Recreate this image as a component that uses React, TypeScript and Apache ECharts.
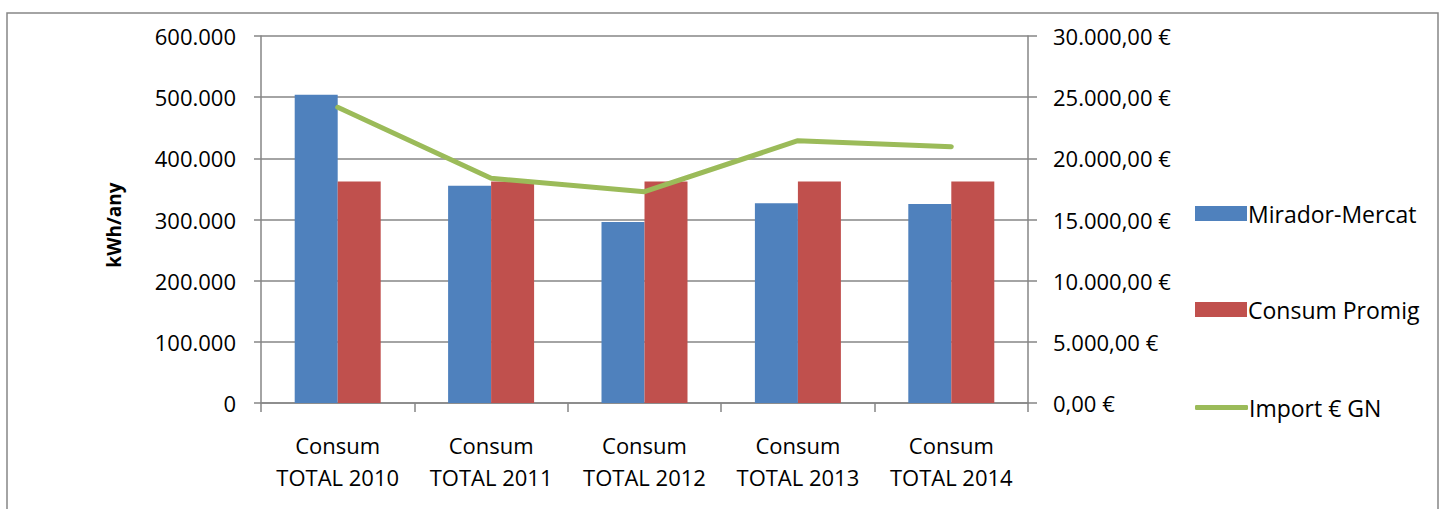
import React, { useEffect, useRef } from "react";
import * as echarts from "echarts";

const categories = [
  "Consum\nTOTAL 2010",
  "Consum\nTOTAL 2011",
  "Consum\nTOTAL 2012",
  "Consum\nTOTAL 2013",
  "Consum\nTOTAL 2014",
];
const miradorMercat = [504000, 355000, 296000, 326500, 325500];
const consumPromig = [362000, 362000, 362000, 362000, 362000];
const importGN = [24170, 18370, 17270, 21440, 20950];

const FONT = "'Open Sans', 'Noto Sans', sans-serif";
const GRAY = "#868686";

function fmtThousands(v: number): string {
  const s = Math.round(v).toString();
  return s.replace(/\B(?=(\d{3})+(?!\d))/g, ".");
}
function fmtEuro(v: number): string {
  return fmtThousands(Math.floor(v)) + ",00 €";
}

export default function App() {
  const ref = useRef<HTMLDivElement>(null);
  useEffect(() => {
    if (!ref.current) return;
    const chart = echarts.init(ref.current, undefined, { renderer: "svg" });
    const legendText = { fontFamily: FONT, fontSize: 23, color: "#000", padding: [0, 0, 0, -4] };
    chart.setOption({
      animation: false,
      backgroundColor: "#fff",
      textStyle: { fontFamily: FONT },
      grid: { left: 261, right: 419, top: 36, bottom: 106, containLabel: false },
      graphic: [
        {
          type: "rect",
          shape: { x: 7, y: 13, width: 1431, height: 520 },
          style: { fill: "none", stroke: GRAY, lineWidth: 1.5 },
          z: -1,
        },
        {
          type: "text",
          x: 114,
          y: 225,
          rotation: Math.PI / 2,
          style: {
            text: "kWh/any",
            fontFamily: FONT,
            fontWeight: "bold",
            fontSize: 19,
            fill: "#000",
            align: "center",
            verticalAlign: "middle",
          },
        },
      ],
      legend: [
        {
          data: ["Mirador-Mercat"],
          left: 1190,
          top: 197,
          itemWidth: 52,
          itemHeight: 15,
          textStyle: legendText,
          icon: "rect",
        },
        {
          data: ["Consum Promig"],
          left: 1190,
          top: 293,
          itemWidth: 52,
          itemHeight: 15,
          textStyle: legendText,
          icon: "rect",
        },
        {
          data: ["Import € GN"],
          left: 1190,
          top: 391,
          itemWidth: 53,
          itemHeight: 5,
          textStyle: legendText,
          icon: "roundRect",
        },
      ],
      xAxis: {
        type: "category",
        data: categories,
        axisLine: { show: true, lineStyle: { color: GRAY, width: 1.5 } },
        axisTick: { show: true, length: 9, lineStyle: { color: GRAY, width: 1.5 } },
        axisLabel: {
          margin: 26,
          fontFamily: FONT,
          fontSize: 22,
          color: "#000",
          lineHeight: 32,
          interval: 0,
        },
      },
      yAxis: [
        {
          type: "value",
          min: 0,
          max: 600000,
          interval: 100000,
          axisLine: { show: true, lineStyle: { color: GRAY, width: 1.5 } },
          axisTick: { show: true, length: 7, lineStyle: { color: GRAY, width: 1.5 } },
          splitLine: { show: true, lineStyle: { color: GRAY, width: 1.5 } },
          axisLabel: {
            margin: 25,
            fontFamily: FONT,
            fontSize: 22,
            color: "#000",
            formatter: (v: number) => fmtThousands(v),
          },
        },
        {
          type: "value",
          min: 0,
          max: 30000,
          interval: 5000,
          position: "right",
          axisLine: { show: true, lineStyle: { color: GRAY, width: 1.5 } },
          axisTick: { show: true, length: 9, lineStyle: { color: GRAY, width: 1.5 } },
          splitLine: { show: false },
          axisLabel: {
            margin: 25,
            fontFamily: FONT,
            fontSize: 22,
            color: "#000",
            formatter: (v: number) => fmtEuro(v),
          },
        },
      ],
      series: [
        {
          name: "Mirador-Mercat",
          type: "bar",
          data: miradorMercat,
          barWidth: 43,
          barGap: "0%",
          itemStyle: { color: "#4F81BD" },
          yAxisIndex: 0,
        },
        {
          name: "Consum Promig",
          type: "bar",
          data: consumPromig,
          barWidth: 43,
          barGap: "0%",
          itemStyle: { color: "#C0504D" },
          yAxisIndex: 0,
        },
        {
          name: "Import € GN",
          type: "line",
          data: importGN,
          yAxisIndex: 1,
          symbol: "none",
          lineStyle: { color: "#9BBB59", width: 5, cap: "round" },
          itemStyle: { color: "#9BBB59" },
          z: 5,
        },
      ],
    });
    return () => chart.dispose();
  }, []);
  return (
    <div
      ref={ref}
      style={{ position: "absolute", left: 0, top: 0, width: 1447, height: 509 }}
    />
  );
}
